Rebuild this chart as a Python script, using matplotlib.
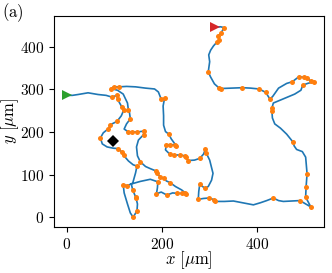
import matplotlib
matplotlib.use("Agg")
import matplotlib.pyplot as plt
from matplotlib.ticker import FixedLocator

plt.rcParams['font.family'] = ['cmr10', 'DejaVu Serif']
plt.rcParams['mathtext.fontset'] = 'cm'
plt.rcParams['axes.formatter.use_mathtext'] = True

# trajectory (µm)
traj_x = [0, 12, 24, 45, 66, 83, 95, 106, 107, 116, 120, 115, 106, 92, 88, 77, 71, 75, 85, 98,
          109, 116, 120, 130, 140, 148, 145, 139, 128, 119, 121, 128, 134, 140, 148, 149, 146, 145,
          139, 136, 155, 176, 192, 191, 189, 199, 211, 223, 233, 242, 249, 252, 242, 229, 218, 210,
          204, 197, 190, 187, 176, 166, 155, 149, 147, 151, 162, 162, 148, 138, 130, 121, 126, 134,
          132, 130, 128, 119, 107, 93, 99, 111, 126, 145, 166, 185, 193, 199, 206, 203, 204, 204,
          208, 215, 220, 231, 227, 217, 210, 208, 217, 226, 238, 249, 252, 255, 269, 280, 288, 292,
          294, 301, 308, 305, 298, 291, 280, 278, 277, 288, 299, 311, 313, 332, 351, 370, 393, 408,
          421, 435, 446, 456, 472, 491, 514, 504, 503, 504, 506, 504, 503, 496, 484, 479, 476, 463,
          450, 438, 433, 432, 432, 435, 450, 465, 480, 493, 497, 507, 520, 514, 505, 500, 489, 475,
          463, 446, 434, 428, 419, 405, 387, 370, 345, 324, 320, 311, 303, 298, 300, 301, 299, 303,
          309, 317, 321, 319, 325, 331, 324, 313]
traj_y = [286, 286, 288, 292, 288, 286, 282, 286, 277, 259, 251, 238, 225, 217, 208, 198, 186, 172,
          165, 162, 161, 153, 145, 132, 123, 120, 104, 80, 74, 76, 57, 31, 10, 0, 15, 31, 45, 48,
          64, 78, 84, 89, 83, 69, 55, 59, 52, 57, 56, 56, 56, 55, 64, 72, 81, 85, 91, 95, 103, 109,
          114, 119, 130, 144, 165, 181, 194, 202, 200, 200, 200, 207, 219, 231, 247, 251, 268, 289,
          298, 302, 306, 306, 307, 306, 303, 301, 294, 277, 279, 261, 238, 216, 201, 195, 184, 167,
          170, 170, 170, 158, 148, 146, 146, 144, 142, 133, 134, 138, 148, 159, 150, 134, 103, 87,
          72, 68, 77, 60, 42, 44, 45, 41, 37, 37, 38, 34, 29, 34, 39, 45, 39, 37, 38, 39, 24, 45,
          48, 72, 102, 127, 141, 154, 159, 167, 177, 195, 209, 219, 233, 249, 256, 268, 275, 282,
          289, 298, 310, 314, 318, 320, 326, 328, 330, 318, 314, 303, 284, 277, 293, 301, 303, 304,
          303, 302, 304, 313, 329, 341, 357, 365, 381, 392, 402, 412, 415, 426, 432, 445, 447, 446]

# detected points (µm)
pts_x = [95, 106, 107, 116, 120, 106, 92, 88, 71, 109, 116, 120, 148, 128, 119, 140, 148, 146, 145,
         139, 192, 189, 211, 233, 242, 249, 252, 218, 204, 197, 190, 187, 155, 162, 162, 148, 138,
         130, 134, 130, 93, 99, 111, 199, 206, 215, 231, 227, 217, 210, 217, 226, 238, 249, 252,
         255, 280, 292, 294, 291, 280, 277, 299, 311, 313, 435, 491, 514, 503, 504, 506, 476, 432,
         432, 497, 520, 514, 505, 500, 489, 475, 428, 419, 405, 370, 324, 320, 298, 317, 321, 319,
         325, 331]
pts_y = [282, 286, 277, 259, 251, 225, 217, 208, 186, 161, 153, 145, 120, 74, 76, 0, 15, 45, 48,
         64, 83, 55, 52, 56, 56, 56, 55, 81, 91, 95, 103, 109, 130, 194, 202, 200, 200, 200, 231,
         251, 302, 306, 306, 277, 279, 195, 167, 170, 170, 170, 148, 146, 146, 144, 142, 133, 138,
         159, 150, 68, 77, 42, 45, 41, 37, 45, 39, 24, 48, 72, 102, 177, 249, 256, 310, 318, 320,
         326, 328, 330, 318, 277, 293, 301, 304, 302, 304, 341, 412, 415, 426, 432, 445]

start_xy = (0, 286)
end_xy = (313, 446)
mark_xy = (98, 178)

x_ticks = [0, 200, 400]
y_ticks = [0, 100, 200, 300, 400]

fig = plt.figure(figsize=(3.32, 2.73), dpi=100)
ax = fig.add_axes([0.1636, 0.1685, 0.8114, 0.774])

ax.plot(traj_x, traj_y, color='#1f77b4', lw=1.2, zorder=2)
ax.plot(pts_x, pts_y, 'o', color='#ff7f0e', ms=3.6, mew=0, zorder=3)
ax.plot(*start_xy, '>', color='#2ca02c', ms=7.7, mew=0, zorder=4)
ax.plot(*end_xy, '>', color='#d62728', ms=7.7, mew=0, zorder=4)
ax.plot(*mark_xy, 'D', color='black', ms=6.6, mew=0, zorder=4)

ax.set_xlim(-26, 541)
ax.set_ylim(-23, 473)
ax.xaxis.set_major_locator(FixedLocator(x_ticks))
ax.yaxis.set_major_locator(FixedLocator(y_ticks))
ax.set_xticklabels([f'${t}$' for t in x_ticks])
ax.set_yticklabels([f'${t}$' for t in y_ticks])
ax.tick_params(labelsize=11, length=3.5, width=0.8)
ax.set_xlabel(r'$x\ [\mathrm{\mu m}]$', fontsize=12)
ax.set_ylabel(r'$y\ [\mathrm{\mu m}]$', fontsize=12)
ax.xaxis.set_label_coords(0.5, -0.105)
ax.yaxis.set_label_coords(-0.122, 0.5)
for s in ax.spines.values():
    s.set_linewidth(0.8)

fig.text(0.005, 0.995, '$(\\mathrm{a})$', ha='left', va='top', fontsize=12)

fig.savefig('out.png', dpi=100)
